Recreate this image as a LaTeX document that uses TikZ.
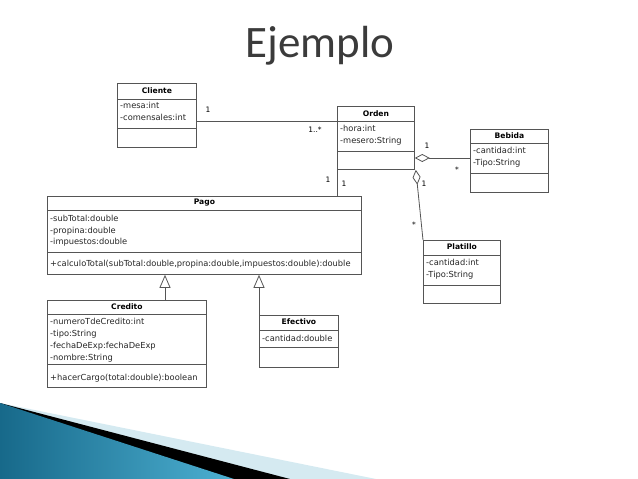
\documentclass[tikz,border=0pt]{standalone}
\usepackage{fontspec}
\setmainfont{DejaVu Sans}
\newfontfamily\titlefont{Carlito}
\usepackage{tikz}
\usetikzlibrary{arrows.meta, positioning, calc}
\definecolor{cLine}{HTML}{555555}
\definecolor{cTitle}{HTML}{3B3B3B}
\definecolor{cTeal}{HTML}{17698A}
\definecolor{cSky}{HTML}{4DB0D2}
\definecolor{cPale}{HTML}{D5EAF1}

\begin{document}
\begin{tikzpicture}[x=1pt, y=-1pt,
  cls/.style={draw=cLine, line width=0.8pt, fill=white, inner sep=0pt, anchor=north west},
  hdr/.style={font=\fontsize{7.6}{8}\selectfont\bfseries},
  attr/.style={font=\fontsize{8.3}{12}\selectfont, align=left, anchor=north west, inner sep=0pt, text=black!85},
  mult/.style={font=\fontsize{7.5}{8}\selectfont, inner sep=0pt},
  link/.style={cLine, line width=0.8pt},
  agg/.style={link, {Diamond[open, length=15pt, width=8pt]}-},
  gen/.style={link, -{Triangle[open, length=13pt, width=11pt]}},
]
  \useasboundingbox (0,0) rectangle (638,479);
  % ---- title ----
  \node[font=\titlefont\fontsize{45}{45}\selectfont, text=cTitle, anchor=base] (title) at (320,57) {Ejemplo};
  % ---- slide decoration bottom left ----
  \fill[cPale] (0,403) -- (376,479) -- (0,479) -- cycle;
  \fill[black] (0,403) -- (290,479) -- (0,479) -- cycle;
  \shade[left color=cTeal, right color=cSky] (0,403) -- (234,479) -- (0,479) -- cycle;
  % ---- classes ----
  \node[cls, minimum width=79pt, minimum height=64pt] (cliente) at (117,83) {};
  \node[cls, minimum width=77pt, minimum height=63pt] (orden) at (337,106) {};
  \node[cls, minimum width=78pt, minimum height=63pt] (bebida) at (470,129) {};
  \node[cls, minimum width=77pt, minimum height=63pt] (platillo) at (423,240) {};
  \node[cls, minimum width=314pt, minimum height=78pt] (pago) at (47,196) {};
  \node[cls, minimum width=159pt, minimum height=87pt] (credito) at (47,300) {};
  \node[cls, minimum width=79pt, minimum height=52pt] (efectivo) at (259,315) {};
  % compartment lines
  \foreach \c/\a/\b in {cliente/99/128, orden/121/151, bebida/143/173, platillo/255/285,
                        pago/210/252, credito/314/364, efectivo/330/347}
    \draw[link] (\c.west |- 0,\a) -- (\c.east |- 0,\a)
                (\c.west |- 0,\b) -- (\c.east |- 0,\b);
  % class names
  \node[hdr] (clienteN)  at (cliente.north |- 0,91) {Cliente};
  \node[hdr] (ordenN)    at (orden.north |- 0,114) {Orden};
  \node[hdr] (bebidaN)   at (bebida.north |- 0,136) {Bebida};
  \node[hdr] (platilloN) at (platillo.north |- 0,247) {Platillo};
  \node[hdr] (pagoN)     at (pago.north |- 0,203) {Pago};
  \node[hdr] (creditoN)  at (credito.north |- 0,307) {Credito};
  \node[hdr] (efectivoN) at (efectivo.north |- 0,322) {Efectivo};
  % attributes and methods
  \node[attr] (clienteA) at (120,102) {-mesa:int\\-comensales:int};
  \node[attr] (ordenA) at (340,125) {-hora:int\\-mesero:String};
  \node[attr] (bebidaA) at (473,147) {-cantidad:int\\-Tipo:String};
  \node[attr] (platilloA) at (426,259) {-cantidad:int\\-Tipo:String};
  \node[attr, font=\fontsize{8.3}{11.5}\selectfont] (pagoA) at (50,215) {-subTotal:double\\-propina:double\\-impuestos:double};
  \node[attr] (pagoM) at (50,260) {+calculoTotal(subTotal:double,propina:double,impuestos:double):double};
  \node[attr] (creditoA) at (50,318) {-numeroTdeCredito:int\\-tipo:String\\-fechaDeExp:fechaDeExp\\-nombre:String};
  \node[attr] (creditoM) at (50,374) {+hacerCargo(total:double):boolean};
  \node[attr] (efectivoA) at (262,335) {-cantidad:double};
  % ---- relations ----
  \draw[link] (cliente.east |- 0,121) -- (orden.west |- 0,121);
  \draw[link] (orden.south west) -- (pago.north -| orden.south west);
  \draw[agg] (orden.east |- 0,158) -- (bebida.west |- 0,158);
  \draw[agg] ($(orden.south east)+(1,0)$) -- (platillo.north west);
  \draw[gen] (credito.north -| 165,0) -- (pago.south -| 165,0);
  \draw[gen] (efectivo.north west) -- (pago.south -| efectivo.north west);
  % multiplicities
  \node[mult] (m1) at (208,110) {1};
  \node[mult] (m2) at (315,130) {1..*};
  \node[mult] (m3) at (328,180) {1};
  \node[mult] (m4) at (344,184) {1};
  \node[mult] (m5) at (427,146) {1};
  \node[mult] (m6) at (457,170) {*};
  \node[mult] (m7) at (424,184) {1};
  \node[mult] (m8) at (414,225) {*};
\end{tikzpicture}
\end{document}
